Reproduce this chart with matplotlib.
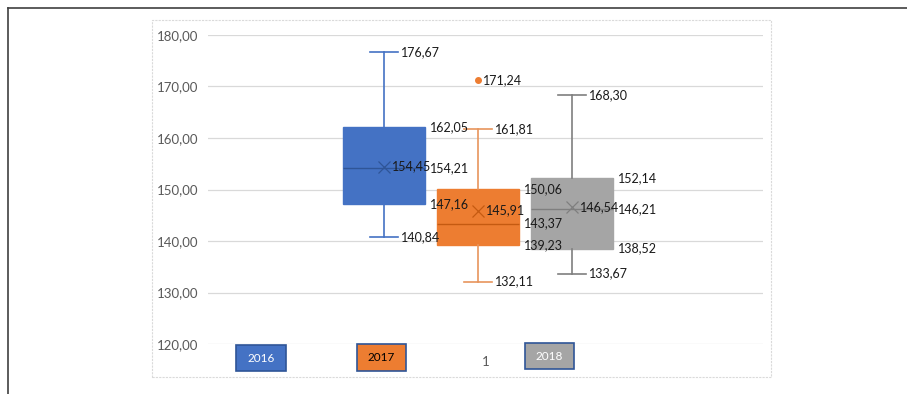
import matplotlib.pyplot as plt
from matplotlib.patches import Rectangle
from matplotlib.lines import Line2D
from matplotlib.ticker import FuncFormatter

plt.rcParams['font.family'] = ['Lato', 'DejaVu Sans']

# boxplot statistics per year
years = ['2016', '2017', '2018']
whislo = [140.84, 132.11, 133.67]
q1 = [147.16, 139.23, 138.52]
med = [154.21, 143.37, 146.21]
mean = [154.45, 145.91, 146.54]
q3 = [162.05, 150.06, 152.14]
whishi = [176.67, 161.81, 168.30]
fliers = [[], [171.24], []]
category = ['1']

fill = ['#4472C4', '#ED7D31', '#A5A5A5']
dark = ['#2F5597', '#C55A11', '#7F7F7F']
whisk = ['#4472C4', '#E8955C', '#7F7F7F']


def fmt(v):
    return f'{v:.2f}'.replace('.', ',')


fig = plt.figure(figsize=(9.07, 3.94), dpi=100)
W, H = 907, 394

# outer frame (top and left edge) and chart-area frame
fig.add_artist(Line2D([8 / W, 1], [1 - 8 / H, 1 - 8 / H], color='#404040', lw=1.2))
fig.add_artist(Line2D([8 / W, 8 / W], [0, 1 - 8 / H], color='#404040', lw=1.2))
fig.add_artist(Rectangle((152 / W, 1 - 377 / H), 619 / W, 357 / H, fill=False,
                         ec='#DADADA', lw=0.8, ls=(0, (2, 1))))

ax = fig.add_axes([208 / W, 1 - 344 / H, 555 / W, 309 / H])

pos = [1, 2, 3]
stats = []
for i in range(3):
    stats.append(dict(whislo=whislo[i], q1=q1[i], med=med[i], mean=mean[i],
                      q3=q3[i], whishi=whishi[i], fliers=fliers[i], label=years[i]))

for i in range(3):
    ax.bxp([stats[i]], positions=[pos[i]], widths=0.88, patch_artist=True,
           showmeans=True, capwidths=0.29,
           boxprops=dict(facecolor=fill[i], edgecolor=fill[i], lw=1),
           medianprops=dict(color=dark[i], lw=1),
           whiskerprops=dict(color=whisk[i], lw=1.2),
           capprops=dict(color=whisk[i], lw=1.2),
           meanprops=dict(marker='x', markeredgecolor=dark[i], markersize=9, markeredgewidth=0.9),
           flierprops=dict(marker='o', markerfacecolor=fill[i], markeredgecolor=fill[i], markersize=4))

lab = dict(fontsize=9, color='#1a1a1a', va='center', ha='left', textcoords='offset points')
for i in range(3):
    p = pos[i]
    for v in (q1[i], med[i], q3[i]):
        ax.annotate(fmt(v), (p + 0.44, v), xytext=(3, 0), **lab)
    for v in (whislo[i], whishi[i]):
        ax.annotate(fmt(v), (p + 0.145, v), xytext=(2.5, 0), **lab)
    ax.annotate(fmt(mean[i]), (p, mean[i]), xytext=(6, 0), **lab)
    for v in fliers[i]:
        ax.annotate(fmt(v), (p, v), xytext=(3.5, 0), **lab)

ax.set_ylim(120, 180)
ax.set_xlim(1 - 1.872, 1 + 4.032)
ax.set_yticks(range(120, 181, 10))
ax.yaxis.set_major_formatter(FuncFormatter(lambda v, _: fmt(v)))
ax.set_xticks([sum(ax.get_xlim()) / 2])
ax.set_xticklabels(category)
ax.tick_params(length=0, labelsize=9.5, labelcolor='#595959')
ax.tick_params(axis='x', pad=9)
ax.tick_params(axis='y', pad=7)
ax.grid(axis='y', color='#D9D9D9', lw=0.9)
ax.set_axisbelow(True)
for s in ax.spines.values():
    s.set_visible(False)

# year text boxes under the plot
boxes = [(236, 345, 50, 26), (357, 344, 49, 27), (525, 343, 49, 26)]
txtc = ['white', 'black', 'white']
for i in range(3):
    x0, y0, w, h = boxes[i]
    fig.add_artist(Rectangle((x0 / W, 1 - (y0 + h) / H), w / W, h / H,
                             fc=fill[i], ec='#2F5597', lw=1.2))
    fig.text((x0 + w / 2) / W, 1 - (y0 + h / 2) / H, years[i], ha='center', va='center',
             fontsize=8.5, color=txtc[i])

fig.savefig('out.png', dpi=100)
